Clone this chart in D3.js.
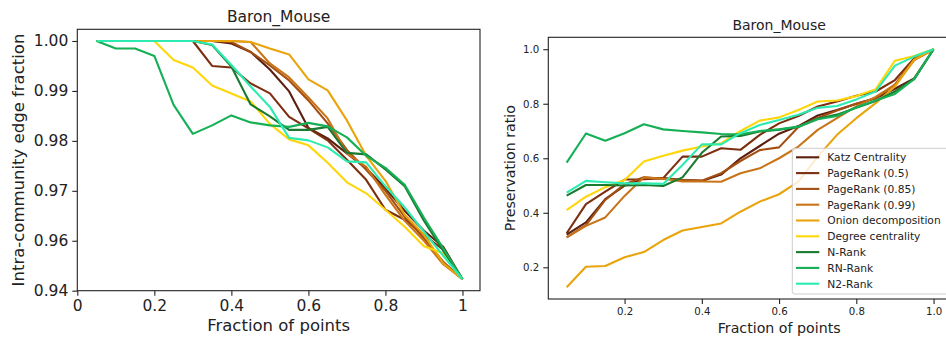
<!DOCTYPE html>
<html>
<head>
<meta charset="utf-8">
<script src="https://cdn.jsdelivr.net/npm/d3@7"></script>
<style>
  html, body { margin: 0; padding: 0; background: #fff; }
  svg { display: block; font-family: "DejaVu Sans", sans-serif; }
</style>
</head>
<body>
<svg id="chart" width="946" height="341"></svg>
<script>
// Fraction of points removed / kept along the x axis
const fractions = [0.05, 0.1, 0.15, 0.2, 0.25, 0.3, 0.35, 0.4, 0.45, 0.5,
                   0.55, 0.6, 0.65, 0.7, 0.75, 0.8, 0.85, 0.9, 0.95, 1.0];

const methods = ["Katz Centrality", "PageRank (0.5)", "PageRank (0.85)", "PageRank (0.99)",
                 "Onion decomposition", "Degree centrality", "N-Rank", "RN-Rank", "N2-Rank"];
const methodColors = ["#5c1f0f", "#7d2e0e", "#a44e12", "#c87418", "#e9a40c",
                      "#ffd60a", "#1a7a30", "#15af55", "#2cebb0"];

// Left panel: intra-community edge fraction
const katzIntra   = [1,1,1,1,1,1,1,0.9995,0.9978,0.9943,0.9899,0.9826,0.9805,0.9775,0.9745,0.9705,0.9660,0.9620,0.9588,0.9523];
const pr05Intra   = [1,1,1,1,1,1,0.9950,0.9947,0.9915,0.9895,0.9848,0.9825,0.9801,0.9762,0.9722,0.9662,0.9642,0.9612,0.9582,0.9523];
const pr085Intra  = [1,1,1,1,1,1,1,0.9998,0.9978,0.9951,0.9921,0.9881,0.9835,0.9782,0.9742,0.9700,0.9648,0.9605,0.9558,0.9523];
const pr099Intra  = [1,1,1,1,1,1,1,1,0.9998,0.9955,0.9927,0.9887,0.9845,0.9775,0.9748,0.9692,0.9640,0.9600,0.9553,0.9523];
const onionIntra  = [1,1,1,1,1,1,1,1,0.9998,0.9985,0.9973,0.9923,0.9901,0.9841,0.9770,0.9720,0.9652,0.9612,0.9555,0.9523];
const degreeIntra = [1,1,1,1,0.9962,0.9947,0.9911,0.9895,0.9879,0.9834,0.9803,0.9791,0.9756,0.9717,0.9695,0.9662,0.9628,0.9589,0.9575,0.9523];
const nrankIntra  = [1,1,1,1,1,1,0.9992,0.9949,0.9873,0.9849,0.9822,0.9822,0.9828,0.9776,0.9773,0.9743,0.9709,0.9640,0.9580,0.9523];
const rnrankIntra = [1,0.9985,0.9985,0.9970,0.9872,0.9814,0.9831,0.9851,0.9837,0.9831,0.9828,0.9836,0.9829,0.9807,0.9770,0.9746,0.9712,0.9646,0.9585,0.9523];
const n2rankIntra = [1,1,1,1,1,1,0.9993,0.9952,0.9909,0.9868,0.9806,0.9801,0.9787,0.9759,0.9757,0.9709,0.9667,0.9618,0.9570,0.9523];

// Right panel: preservation ratio
const katzPres   = [0.320,0.365,0.450,0.500,0.527,0.527,0.520,0.517,0.540,0.600,0.645,0.690,0.718,0.757,0.777,0.800,0.820,0.855,0.893,1.0];
const pr05Pres   = [0.325,0.432,0.478,0.522,0.523,0.527,0.606,0.606,0.637,0.631,0.686,0.728,0.755,0.790,0.808,0.829,0.845,0.887,0.967,1.0];
const pr085Pres  = [0.310,0.355,0.447,0.505,0.530,0.525,0.520,0.518,0.545,0.590,0.630,0.640,0.715,0.748,0.775,0.800,0.820,0.870,0.960,1.0];
const pr099Pres  = [0.310,0.352,0.383,0.462,0.530,0.525,0.515,0.515,0.514,0.545,0.563,0.600,0.643,0.704,0.747,0.790,0.825,0.870,0.963,1.0];
const onionPres  = [0.127,0.202,0.205,0.237,0.256,0.300,0.335,0.348,0.361,0.404,0.441,0.468,0.514,0.606,0.686,0.747,0.802,0.863,0.961,1.0];
const degreePres = [0.410,0.459,0.494,0.520,0.588,0.609,0.628,0.643,0.655,0.700,0.738,0.750,0.777,0.808,0.812,0.828,0.853,0.958,0.975,1.0];
const nrankPres  = [0.463,0.502,0.502,0.500,0.502,0.498,0.530,0.620,0.680,0.682,0.698,0.705,0.715,0.745,0.760,0.785,0.810,0.845,0.890,1.0];
const rnrankPres = [0.584,0.691,0.664,0.692,0.725,0.706,0.700,0.695,0.689,0.688,0.700,0.706,0.716,0.743,0.755,0.787,0.812,0.836,0.891,1.0];
const n2rankPres = [0.474,0.517,0.512,0.508,0.508,0.506,0.575,0.651,0.651,0.692,0.722,0.740,0.760,0.785,0.792,0.816,0.845,0.940,0.973,1.0];

const leftXTicks = [0, 0.2, 0.4, 0.6, 0.8, 1];
const leftXTickLabels = ["0", "0.2", "0.4", "0.6", "0.8", "1"];
const leftYTicks = [1.00, 0.99, 0.98, 0.97, 0.96, 0.95];
const leftYTickLabels = ["1.00", "0.99", "0.98", "0.97", "0.96", "0.94"];
const rightXTicks = [0.2, 0.4, 0.6, 0.8, 1.0];
const rightYTicks = [0.2, 0.4, 0.6, 0.8, 1.0];

const intraSeries = [katzIntra, pr05Intra, pr085Intra, pr099Intra, onionIntra,
                     degreeIntra, nrankIntra, rnrankIntra, n2rankIntra];
const presSeries = [katzPres, pr05Pres, pr085Pres, pr099Pres, onionPres,
                    degreePres, nrankPres, rnrankPres, n2rankPres];

const svg = d3.select("#chart");

function drawPanel(opt) {
  const x = d3.scaleLinear().domain(opt.xDomain).range([opt.left, opt.right]);
  const y = d3.scaleLinear().domain(opt.yDomain).range([opt.bottom, opt.top]);
  const g = svg.append("g");

  const line = d3.line().x((d, i) => x(fractions[i])).y(d => y(d));
  opt.series.forEach((s, k) => {
    g.append("path").datum(s)
      .attr("fill", "none")
      .attr("stroke", methodColors[k])
      .attr("stroke-width", 2.1)
      .attr("stroke-linejoin", "round")
      .attr("d", line);
  });

  // frame
  g.append("rect")
    .attr("x", opt.left).attr("y", opt.top)
    .attr("width", opt.right - opt.left).attr("height", opt.bottom - opt.top)
    .attr("fill", "none").attr("stroke", "#222").attr("stroke-width", 1.1);

  const xAxis = d3.axisBottom(x).tickValues(opt.xTicks).tickSize(5).tickPadding(4)
    .tickFormat((d, i) => opt.xTickLabels[i]);
  const gx = g.append("g").attr("transform", `translate(0,${opt.bottom})`).call(xAxis);
  const yAxis = d3.axisLeft(y).tickValues(opt.yTicks).tickSize(5).tickPadding(4)
    .tickFormat((d, i) => opt.yTickLabels[i]);
  const gy = g.append("g").attr("transform", `translate(${opt.left},0)`).call(yAxis);
  [gx, gy].forEach(a => {
    a.select(".domain").remove();
    a.selectAll(".tick line").attr("stroke", "#222").attr("stroke-width", 1.1);
    a.selectAll(".tick text").attr("fill", "#222")
      .style("font-size", opt.tickFont + "px").style("font-family", "DejaVu Sans");
  });

  g.append("text").attr("x", (opt.left + opt.titleRight) / 2).attr("y", opt.titleY)
    .attr("text-anchor", "middle").attr("fill", "#222")
    .style("font-size", opt.titleFont + "px").text("Baron_Mouse");
  g.append("text").attr("x", (opt.left + opt.titleRight) / 2).attr("y", opt.xLabelY)
    .attr("text-anchor", "middle").attr("fill", "#222")
    .style("font-size", opt.labelFont + "px").text("Fraction of points");
  g.append("text")
    .attr("transform", `translate(${opt.yLabelX},${(opt.top + opt.bottom) / 2}) rotate(-90)`)
    .attr("text-anchor", "middle").attr("fill", "#222")
    .style("font-size", opt.labelFont + "px").text(opt.yLabel);
  return { x, y };
}

drawPanel({
  series: intraSeries,
  xDomain: [0, 1.0455], yDomain: [0.95, 1.00234],
  left: 77.3, right: 480, top: 29.3, bottom: 290.7, titleRight: 480,
  xTicks: leftXTicks, xTickLabels: leftXTickLabels,
  yTicks: leftYTicks, yTickLabels: leftYTickLabels,
  tickFont: 15.5, labelFont: 16.5, titleFont: 15.5,
  titleY: 22, xLabelY: 331, yLabelX: 24,
  yLabel: "Intra-community edge fraction"
});

drawPanel({
  series: presSeries,
  xDomain: [0.0025, 1.0475], yDomain: [0.08375, 1.04375],
  left: 548.3, right: 951.9, top: 37.3, bottom: 299, titleRight: 1010,
  xTicks: rightXTicks, xTickLabels: rightXTicks.map(d3.format(".1f")),
  yTicks: rightYTicks, yTickLabels: rightYTicks.map(d3.format(".1f")),
  tickFont: 10.2, labelFont: 14.2, titleFont: 14,
  titleY: 30, xLabelY: 333, yLabelX: 515,
  yLabel: "Preservation ratio"
});

// Legend for the right panel
const legend = svg.append("g");
legend.append("rect")
  .attr("x", 792.3).attr("y", 148.3).attr("width", 170).attr("height", 145.7)
  .attr("rx", 2.5).attr("fill", "#fff").attr("fill-opacity", 0.8)
  .attr("stroke", "#cccccc").attr("stroke-width", 1);
methods.forEach((m, k) => {
  const yy = 157.3 + k * 15.8;
  legend.append("line").attr("x1", 796).attr("x2", 819.3).attr("y1", yy).attr("y2", yy)
    .attr("stroke", methodColors[k]).attr("stroke-width", 2.1);
  legend.append("text").attr("x", 827.3).attr("y", yy).attr("dy", "0.36em")
    .attr("fill", "#222").style("font-size", "10.7px").text(m);
});
</script>
</body>
</html>
